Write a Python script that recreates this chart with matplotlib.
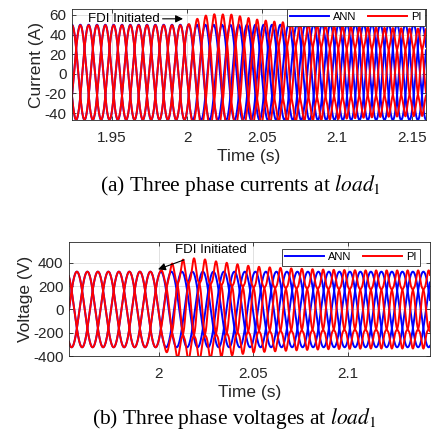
import numpy as np
import matplotlib
matplotlib.use('Agg')
from matplotlib import pyplot

FREQ = 60.0
T_FDI = 2.0

# three phase currents at load 1 (A)
CUR_XLIM = (1.9233, 2.1593)
CUR_YLIM = (-47, 66)
CUR_XTICKS = [1.95, 2.0, 2.05, 2.1, 2.15]
CUR_XTICKLABELS = ['1.95', '2', '2.05', '2.1', '2.15']
CUR_YTICKS = [-40, -20, 0, 20, 40, 60]
CUR_ANN_AMP = 48.5
CUR_OFFSET = 1.5
CUR_PI_T = [1.92, 2.000, 2.006, 2.015, 2.03, 2.045, 2.06, 2.08, 2.10, 2.13, 2.16]
CUR_PI_AMP = [48, 48, 53, 57, 56, 51, 48, 46, 44, 42, 41]
CUR_PI_SHIFT = [0, 0, -3, -8, -15, -25, -35, -45, -55, -60, -62]
CUR_PI_H5 = [0, 0, 0.02, 0.04, 0.05, 0.06, 0.07, 0.08, 0.08, 0.08, 0.08]

# three phase voltages at load 1 (V)
VOL_XLIM = (1.9524, 2.1434)
VOL_YLIM = (-400, 580)
VOL_XTICKS = [2.0, 2.05, 2.1]
VOL_XTICKLABELS = ['2', '2.05', '2.1']
VOL_YTICKS = [-400, -200, 0, 200, 400]
VOL_ANN_AMP = 325
VOL_PI_T = [1.95, 2.0, 2.004, 2.01, 2.02, 2.03, 2.05, 2.07, 2.09, 2.11, 2.145]
VOL_PI_AMP = [325, 325, 350, 385, 395, 370, 330, 315, 305, 300, 300]
VOL_PI_SHIFT = [0, 0, -5, -10, -20, -30, -40, -50, -55, -60, -60]
VOL_PI_H5 = [0, 0, 0.05, 0.10, 0.12, 0.12, 0.12, 0.12, 0.12, 0.12, 0.12]

TEXT = '#262626'
BLUE = '#0000ff'
RED = '#ff0000'


def three_phase(t, amp, shift_deg, h5, t0, offset_deg, dc=0.0):
    theta = 2 * np.pi * FREQ * (t - t0) + np.deg2rad(shift_deg + offset_deg)
    out = []
    for ph in (0, -120, 120):
        th = theta + np.deg2rad(ph)
        out.append(dc + amp * (np.sin(th) + h5 * np.sin(5 * th)))
    return out


def draw_panel(axis, xlim, ylim, ann_amp, pi_t, pi_amp, pi_shift, pi_h5, t0, offset_deg, dc):
    t = np.arange(xlim[0] - 0.002, xlim[1] + 0.002, 5e-5)
    ann = three_phase(t, ann_amp, 0.0, 0.0, t0, offset_deg, dc)
    pi = three_phase(t, np.interp(t, pi_t, pi_amp), np.interp(t, pi_t, pi_shift),
                     np.interp(t, pi_t, pi_h5), t0, offset_deg, dc)
    for k, y in enumerate(ann):
        axis.plot(t, y, color=BLUE, linewidth=1.4, label='ANN' if k == 0 else None)
    for k, y in enumerate(pi):
        axis.plot(t, y, color=RED, linewidth=1.4, label='PI' if k == 0 else None)
    axis.set_xlim(xlim)
    axis.set_ylim(ylim)
    axis.grid(True, color='#dcdcdc', linewidth=0.6)
    axis.set_axisbelow(True)
    axis.tick_params(direction='in', top=True, right=True, length=3, width=0.6,
                     labelsize=11, colors=TEXT, pad=4)
    axis.tick_params(axis='x', pad=8)
    for spine in axis.spines.values():
        spine.set_color(TEXT)
        spine.set_linewidth(0.6)
    axis.set_xlabel('Time (s)', fontsize=12.5, color=TEXT, labelpad=3)


def add_legend(axis, anchor):
    leg = axis.legend(loc='upper right', bbox_to_anchor=anchor, ncol=2, fontsize=8,
                      handlelength=3.5, handletextpad=0.4, columnspacing=1.0,
                      borderpad=0.3, borderaxespad=0, fancybox=False, framealpha=1,
                      edgecolor=TEXT)
    leg.get_frame().set_linewidth(0.6)


pyplot.rcParams['font.family'] = ['Liberation Sans', 'DejaVu Sans']
pyplot.rcParams['mathtext.fontset'] = 'stix'
pyplot.rcParams['axes.unicode_minus'] = False

fig = pyplot.figure(figsize=(4.38, 4.40), dpi=100)

ax1 = fig.add_axes([72 / 438, 1 - 120 / 440, 354 / 438, 111 / 440])
draw_panel(ax1, CUR_XLIM, CUR_YLIM, CUR_ANN_AMP, CUR_PI_T, CUR_PI_AMP, CUR_PI_SHIFT,
           CUR_PI_H5, 1.9233, 90.0, CUR_OFFSET)
ax1.set_xticks(CUR_XTICKS)
ax1.set_xticklabels(CUR_XTICKLABELS)
ax1.set_yticks(CUR_YTICKS)
ax1.set_ylabel('Current (A)', fontsize=12.5, color=TEXT, labelpad=0)
add_legend(ax1, (0.997, 1.0))
ax1.annotate('FDI Initiated', xy=(1.9973, 56), xytext=(1.934, 56), fontsize=9.5,
             color='k', va='center', ha='left',
             arrowprops=dict(arrowstyle='-|>', color='k', lw=0.8, mutation_scale=11,
                             shrinkA=0, shrinkB=0))

ax2 = fig.add_axes([69 / 438, 1 - 356 / 440, 361 / 438, 114 / 440])
draw_panel(ax2, VOL_XLIM, VOL_YLIM, VOL_ANN_AMP, VOL_PI_T, VOL_PI_AMP, VOL_PI_SHIFT,
           VOL_PI_H5, 1.9524, 0.0, 0.0)
ax2.set_xticks(VOL_XTICKS)
ax2.set_xticklabels(VOL_XTICKLABELS)
ax2.set_yticks(VOL_YTICKS)
ax2.set_ylabel('Voltage (V)', fontsize=12.5, color=TEXT, labelpad=0)
add_legend(ax2, (0.972, 0.939))
ax2.annotate('FDI Initiated', xy=(1.9995, 345), xytext=(2.0085, 510), fontsize=9.5,
             color='k', va='center', ha='left',
             arrowprops=dict(arrowstyle='-|>', color='k', lw=0.8, mutation_scale=11,
                             shrinkA=2, shrinkB=0))

fig.text(0.548, 1 - 185 / 440, r'(a) Three phase currents at $load_1$',
         family='Liberation Serif', fontsize=15.5, ha='center', va='center', color='k')
fig.text(0.534, 1 - 418 / 440, r'(b) Three phase voltages at $load_1$',
         family='Liberation Serif', fontsize=15.5, ha='center', va='center', color='k')

fig.savefig('out.png', dpi=100)
pyplot.close(fig)
